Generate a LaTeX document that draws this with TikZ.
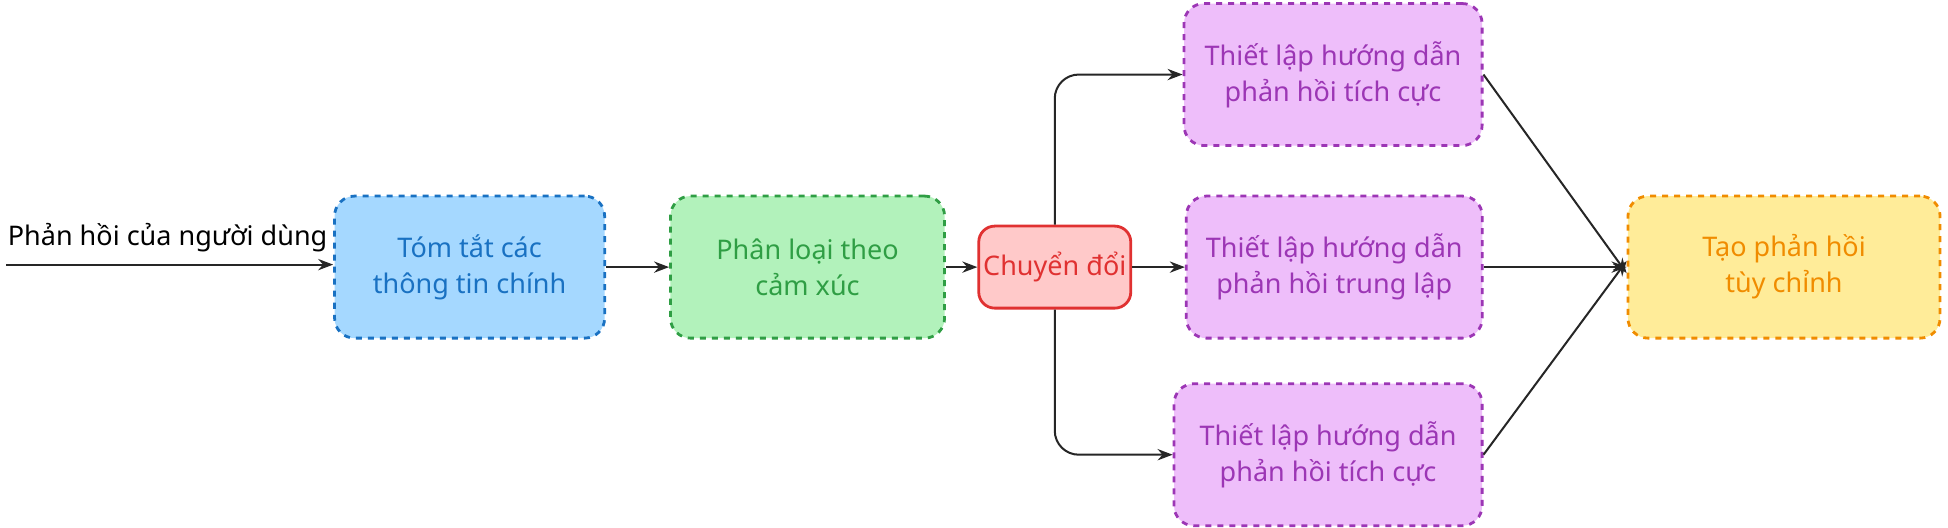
\documentclass[tikz,border=0pt]{standalone}
\usepackage{fontspec}
\setmainfont{Noto Sans}
\usetikzlibrary{arrows.meta}
\definecolor{bF}{HTML}{A5D8FF}\definecolor{bS}{HTML}{1971C2}
\definecolor{gF}{HTML}{B2F2BB}\definecolor{gS}{HTML}{2F9E44}
\definecolor{rF}{HTML}{FFC9C9}\definecolor{rS}{HTML}{E03131}
\definecolor{pF}{HTML}{EEBEFA}\definecolor{pS}{HTML}{9C36B5}
\definecolor{yF}{HTML}{FFEC99}\definecolor{yS}{HTML}{F08C00}
\begin{document}
\begin{tikzpicture}[x=0.621pt,y=-0.621pt,
  box/.style={draw=#1S,fill=#1F,text=#1S,dashed,line width=1.4pt,rounded corners=10pt,align=center,font=\fontsize{13.5}{18}\selectfont,inner sep=0pt},
  arr/.style={-{Stealth[length=7.5pt]},line width=1pt,draw=black!85}]
\fill[white] (0,0) rectangle (1568,425);
\useasboundingbox (0,0) rectangle (1568,425);
\node[box=b,minimum width=135pt,minimum height=71pt] (sum) at (378,215) {Tóm tắt các\\thông tin chính};
\node[box=g,minimum width=137pt,minimum height=71pt] (cls) at (650,215) {Phân loại theo\\cảm xúc};
\node[box=r,solid,minimum width=76pt,minimum height=41pt,rounded corners=8pt] (cv) at (849,215) {Chuyển đổi};
\node[box=p,minimum width=149pt,minimum height=71pt] (p1) at (1073,60) {Thiết lập hướng dẫn\\phản hồi tích cực};
\node[box=p,minimum width=148pt,minimum height=71pt] (p2) at (1074,215) {Thiết lập hướng dẫn\\phản hồi trung lập};
\node[box=p,minimum width=154pt,minimum height=71pt] (p3) at (1069,366) {Thiết lập hướng dẫn\\phản hồi tích cực};
\node[box=y,minimum width=156pt,minimum height=71pt] (out) at (1436,215) {Tạo phản hồi\\tùy chỉnh};
\node[font=\fontsize{13.5}{18}\selectfont,anchor=south west,inner sep=0pt] (in) at (6,203) {Phản hồi của người dùng};
\coordinate (s) at (5,213);
\draw[arr] (s) -- (sum.west|-s);
\draw[arr] (sum) -- (cls);
\draw[arr] (cls) -- (cv);
\draw[arr] (cv) -- (p2);
\draw[arr,rounded corners=12pt] (cv.north) |- (p1.west);
\draw[arr,rounded corners=12pt] (cv.south) |- (p3.west);
\draw[arr] (p1.east) -- ([yshift=-3pt]out.west);
\draw[arr] (p2.east) -- (out.west);
\draw[arr] (p3.east) -- ([yshift=3pt]out.west);
\end{tikzpicture}
\end{document}
